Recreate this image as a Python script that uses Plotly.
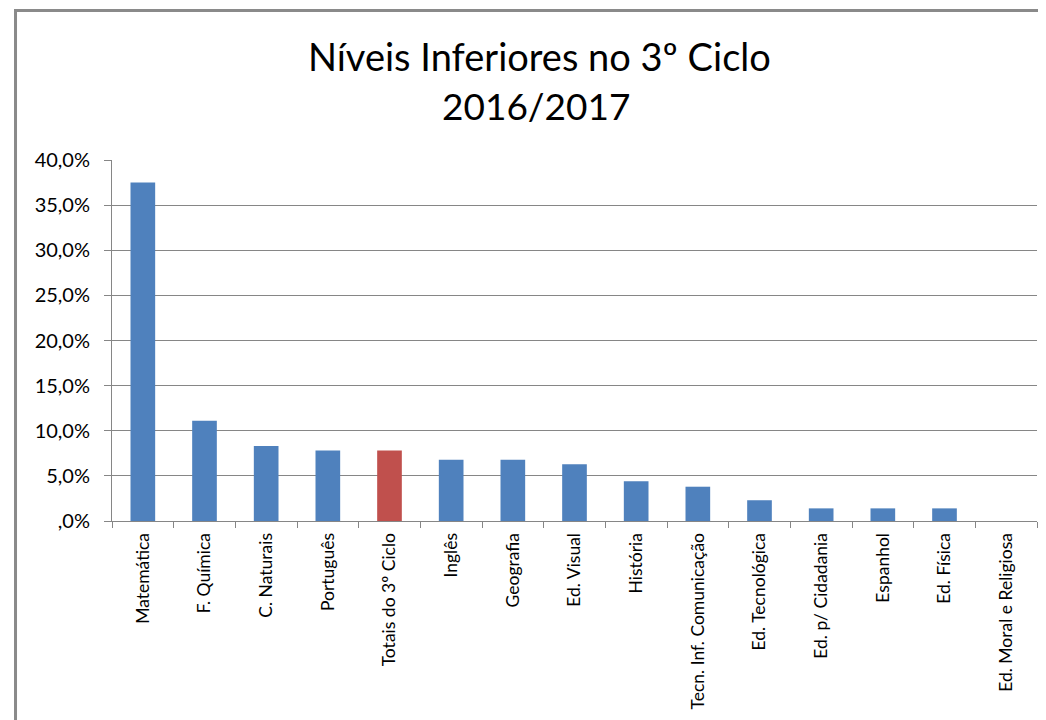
import plotly.graph_objects as go

disciplinas = [
    "Matemática", "F. Química", "C. Naturais", "Português", "Totais do 3º Ciclo",
    "Inglês", "Geografia", "Ed. Visual", "História", "Tecn. Inf. Comunicação",
    "Ed. Tecnológica", "Ed. p/ Cidadania", "Espanhol", "Ed. Física",
    "Ed. Moral e Religiosa",
]

niveis_inferiores = [
    0.375, 0.111, 0.083, 0.078, 0.078,
    0.068, 0.068, 0.063, 0.044, 0.038,
    0.023, 0.014, 0.014, 0.014, 0.0,
]

ticks_y = [0, 0.05, 0.10, 0.15, 0.20, 0.25, 0.30, 0.35, 0.40]
ticks_y_texto = [",0%", "5,0%", "10,0%", "15,0%", "20,0%", "25,0%", "30,0%", "35,0%", "40,0%"]

titulo_1 = "Níveis Inferiores no 3º Ciclo"
titulo_2 = "2016/2017"

azul = "#4F81BD"
vermelho = "#C0504D"
cores = [vermelho if d.startswith("Totais") else azul for d in disciplinas]

fonte = "Lato, Liberation Sans, sans-serif"

fig = go.Figure()

fig.add_trace(
    go.Bar(
        x=disciplinas,
        y=niveis_inferiores,
        marker=dict(color=cores, line=dict(width=0)),
        width=0.4,
    )
)

# a página tem 8px de margem no body, por isso a figura é um pouco menor
fig.update_layout(
    width=1038,
    height=712,
    paper_bgcolor="white",
    plot_bgcolor="white",
    showlegend=False,
    margin=dict(l=104, r=9, t=152, b=199),
    font=dict(family=fonte, color="#000000"),
    xaxis=dict(
        tickangle=-90,
        tickfont=dict(size=17.5),
        showline=True,
        linecolor="#868686",
        linewidth=1,
        ticks="outside",
        tickson="boundaries",
        ticklen=6,
        tickcolor="#868686",
        showgrid=False,
        ticklabelstandoff=4,
    ),
    yaxis=dict(
        range=[0, 0.4],
        tickvals=ticks_y,
        ticktext=ticks_y_texto,
        tickfont=dict(size=20),
        showline=True,
        linecolor="#868686",
        linewidth=1,
        ticks="outside",
        ticklen=7,
        tickcolor="#868686",
        showgrid=True,
        gridcolor="#868686",
        gridwidth=1,
        zeroline=False,
        ticklabelstandoff=10,
    ),
)

fig.add_annotation(
    text=titulo_1, xref="paper", yref="paper",
    x=0.462, y=1.288, xanchor="center", yanchor="middle",
    showarrow=False, font=dict(size=38, family=fonte),
)
fig.add_annotation(
    text=titulo_2, xref="paper", yref="paper",
    x=0.458, y=1.152, xanchor="center", yanchor="middle",
    showarrow=False, font=dict(size=37, family=fonte),
)

# moldura do gráfico
fig.add_shape(
    type="rect",
    xref="paper", yref="paper",
    x0=-0.1043, x1=1.2, y0=-1.0, y1=1.414,
    line=dict(color="#8A8A8A", width=3),
    layer="below",
)

fig.write_html("out.html")
